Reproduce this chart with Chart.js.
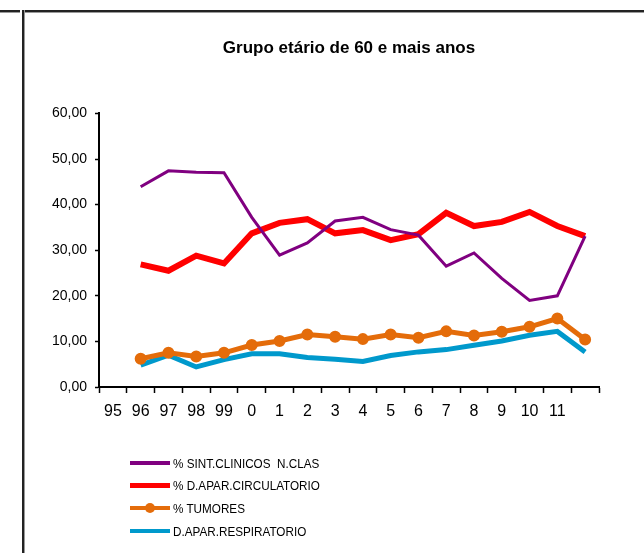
<!DOCTYPE html>
<html>
<head>
<meta charset="utf-8">
<script src="https://cdn.jsdelivr.net/npm/chart.js@4/dist/chart.umd.min.js"></script>
<style>
  html,body{margin:0;padding:0;background:#fff;}
  #wrap{position:relative;width:644px;height:553px;overflow:hidden;}
  #c{position:absolute;left:0;top:0;}
  .hl{position:absolute;height:2px;background:#222;border-bottom:1px solid #999;}
  .vl{position:absolute;width:2px;background:#222;border-right:1px solid #999;}
  #legend{position:absolute;left:130px;top:452px;font-family:"Liberation Sans Narrow","Liberation Sans",Arial,sans-serif;font-size:13px;color:#000;}
  .li{position:relative;height:22.6px;display:flex;align-items:center;}
  .sw{position:relative;width:40px;height:12px;margin-right:3px;flex:none;}
  .sw .ln{position:absolute;left:0;right:0;top:50%;}
  .sw .dt{position:absolute;left:50%;top:50%;width:10px;height:10px;border-radius:50%;transform:translate(-50%,-50%);}
  .tx{display:inline-block;transform:scaleX(0.9);transform-origin:left center;white-space:pre;}
</style>
</head>
<body>
<div id="wrap">
  <canvas id="c" width="644" height="553"></canvas>
  <div class="hl" style="left:0;top:10px;width:20px;"></div>
  <div class="hl" style="left:22px;top:10px;width:622px;"></div>
  <div class="vl" style="left:22px;top:10px;height:543px;"></div>
  <div id="legend"></div>
</div>
<script>
const categories = ["95","96","97","98","99","0","1","2","3","4","5","6","7","8","9","10","11",""];
const sintClinicos = [null,43.9,47.4,47.1,47.0,37.2,28.9,31.6,36.4,37.2,34.5,33.3,26.5,29.4,23.8,19.0,20.0,33.1];
const circulatorio = [null,26.9,25.5,28.8,27.1,33.7,36.0,36.8,33.7,34.4,32.2,33.5,38.2,35.3,36.2,38.4,35.3,33.1];
const tumores = [null,6.2,7.5,6.7,7.5,9.2,10.1,11.5,11.0,10.5,11.5,10.8,12.2,11.3,12.1,13.2,15.0,10.4];
const respiratorio = [null,4.8,7.0,4.4,6.0,7.3,7.3,6.45,6.1,5.6,6.9,7.7,8.2,9.15,10.1,11.35,12.2,7.7];
const seriesNames = ["% SINT.CLINICOS  N.CLAS","% D.APAR.CIRCULATORIO","% TUMORES","D.APAR.RESPIRATORIO"];
const yTicks = [0,10,20,30,40,50,60];

const narrow = '"Liberation Sans Narrow","Liberation Sans",Arial,sans-serif';

const datasets = [
  {label: seriesNames[0], data: sintClinicos, borderColor:'#800080', backgroundColor:'#800080', borderWidth:3, pointRadius:0, legW:4},
  {label: seriesNames[1], data: circulatorio, borderColor:'#ff0000', backgroundColor:'#ff0000', borderWidth:6, pointRadius:0, legW:5},
  {label: seriesNames[2], data: tumores, borderColor:'#e46c0a', backgroundColor:'#e46c0a', borderWidth:5, pointRadius:5, pointBorderWidth:2, pointHoverRadius:5, dot:true, legW:4},
  {label: seriesNames[3], data: respiratorio, borderColor:'#0099cc', backgroundColor:'#0099cc', borderWidth:5, pointRadius:0, legW:4}
].map(d => Object.assign({tension:0, fill:false, spanGaps:false}, d));

const chart = new Chart(document.getElementById('c'), {
  type: 'line',
  data: {labels: categories, datasets: datasets},
  options: {
    responsive:false,
    animation:false,
    devicePixelRatio:1,
    layout:{padding:{top:37,left:0,right:45,bottom:126}},
    plugins:{
      legend:{display:false},
      tooltip:{enabled:false},
      title:{display:true, text:'Grupo etário de 60 e mais anos', fullSize:false, color:'#000',
        font:{family:narrow, size:17, weight:'bold'}, padding:{top:1,bottom:55}}
    },
    scales:{
      x:{
        offset:true,
        grid:{display:true, drawOnChartArea:false, offset:true, color:'#000', tickLength:6, tickWidth:1.5},
        border:{display:true, color:'#000', width:2},
        ticks:{color:'#000', font:{family:narrow, size:16}, padding:9, autoSkip:false, maxRotation:0},
        afterFit: s => { s.height = 40; }
      },
      y:{
        min:0, max:60,
        afterBuildTicks: s => { s.ticks = yTicks.map(v => ({value:v})); },
        grid:{display:true, drawOnChartArea:false, color:'#000', tickLength:4, tickWidth:1.5},
        border:{display:true, color:'#000', width:2},
        ticks:{color:'#000', font:{family:narrow, size:14}, padding:8,
          callback: v => v.toFixed(2).replace('.', ',')},
        afterFit: s => { s.width = 99; }
      }
    }
  }
});

const leg = document.getElementById('legend');
chart.data.datasets.forEach(ds => {
  const row = document.createElement('div'); row.className='li';
  const sw = document.createElement('div'); sw.className='sw';
  const ln = document.createElement('div'); ln.className='ln';
  ln.style.height = ds.legW+'px'; ln.style.marginTop = (-ds.legW/2)+'px'; ln.style.background = ds.borderColor;
  sw.appendChild(ln);
  if (ds.dot) { const dt = document.createElement('div'); dt.className='dt'; dt.style.background = ds.borderColor; sw.appendChild(dt); }
  const tx = document.createElement('span'); tx.className='tx'; tx.textContent = ds.label;
  row.appendChild(sw); row.appendChild(tx); leg.appendChild(row);
});
</script>
</body>
</html>
